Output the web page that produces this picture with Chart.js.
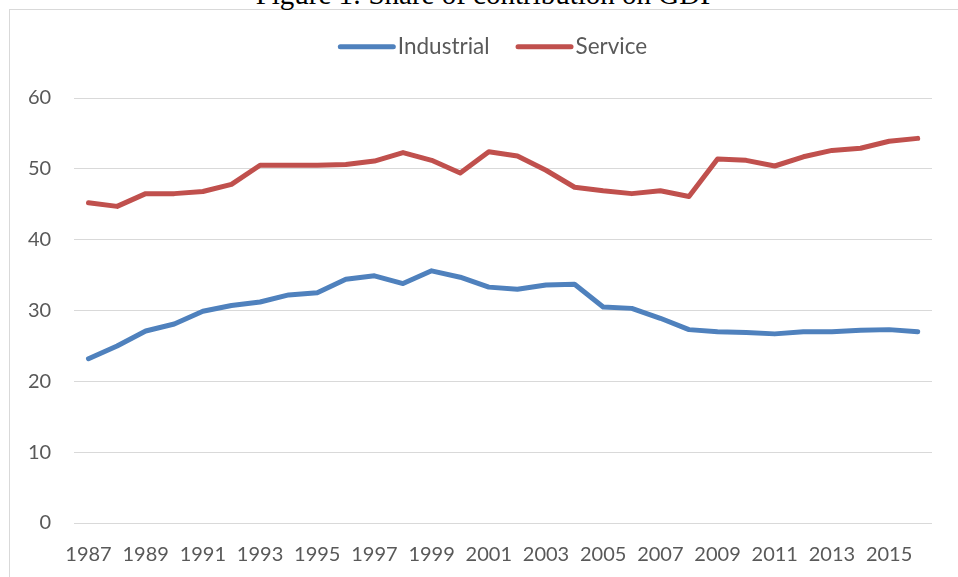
<!DOCTYPE html>
<html>
<head>
<meta charset="utf-8">
<script src="https://cdn.jsdelivr.net/npm/chart.js@4.4.1/dist/chart.umd.min.js"></script>
<style>
  html, body { margin: 0; padding: 0; background: #fff; width: 958px; height: 577px; overflow: hidden; position: relative; }
  #title { position: absolute; left: 0; width: 972px; top: -20px; text-align: center; font-family: "Liberation Serif", "Times New Roman", serif; font-size: 29px; line-height: 29px; color: #000; white-space: nowrap; z-index: 2; }
  #frame { position: absolute; left: 9px; top: 9px; width: 965px; height: 598px; border: 1px solid #d9d9d9; z-index: 1; }
  canvas { display: block; }
</style>
</head>
<body>
<div id="title">Figure 1: Share of contribution on GDP</div>
<div id="frame"><canvas id="c" width="965" height="598"></canvas></div>
<script>
const years = ["1987","1988","1989","1990","1991","1992","1993","1994","1995","1996","1997","1998","1999","2000","2001","2002","2003","2004","2005","2006","2007","2008","2009","2010","2011","2012","2013","2014","2015","2016"];
const industrial = [23.2, 25.0, 27.1, 28.1, 29.9, 30.7, 31.2, 32.2, 32.5, 34.4, 34.9, 33.8, 35.6, 34.7, 33.3, 33.0, 33.6, 33.7, 30.5, 30.3, 28.9, 27.3, 27.0, 26.9, 26.7, 27.0, 27.0, 27.2, 27.3, 27.0];
const service = [45.2, 44.7, 46.5, 46.5, 46.8, 47.8, 50.5, 50.5, 50.5, 50.6, 51.1, 52.3, 51.2, 49.4, 52.4, 51.8, 49.8, 47.4, 46.9, 46.5, 46.9, 46.1, 51.4, 51.2, 50.4, 51.7, 52.6, 52.9, 53.9, 54.3];
const seriesNames = ["Industrial", "Service"];
const yTicks = [0, 10, 20, 30, 40, 50, 60];

// Excel-style legend: line sample directly followed by the label, centred
const excelLegend = {
  id: 'excelLegend',
  afterDraw(chart) {
    const ctx = chart.ctx;
    const font = '22.5px Lato';
    const sampleW = 58, gapText = 2, gapItem = 26, cy = 36.7, cx = 482.5;
    ctx.save();
    ctx.font = font;
    const items = chart.data.datasets.map(ds => ({ label: ds.label, color: ds.borderColor, w: ctx.measureText(ds.label).width }));
    let total = 0;
    items.forEach((it, i) => { total += sampleW + gapText + it.w + (i ? gapItem : 0); });
    let x = cx - total / 2;
    items.forEach((it, i) => {
      if (i) x += gapItem;
      ctx.strokeStyle = it.color;
      ctx.lineWidth = 5;
      ctx.lineCap = 'round';
      ctx.beginPath();
      ctx.moveTo(x + 2.5, cy);
      ctx.lineTo(x + sampleW - 2.5, cy);
      ctx.stroke();
      x += sampleW + gapText;
      ctx.fillStyle = '#595959';
      ctx.textBaseline = 'middle';
      ctx.textAlign = 'left';
      ctx.fillText(it.label, x, cy);
      x += it.w;
    });
    ctx.restore();
  }
};

new Chart(document.getElementById('c'), {
  type: 'line',
  data: {
    labels: years,
    datasets: [
      { label: seriesNames[0], data: industrial, borderColor: '#4f81bd', backgroundColor: '#4f81bd', borderWidth: 5, pointRadius: 0, tension: 0, borderCapStyle: 'round', borderJoinStyle: 'round' },
      { label: seriesNames[1], data: service, borderColor: '#c0504d', backgroundColor: '#c0504d', borderWidth: 5, pointRadius: 0, tension: 0, borderCapStyle: 'round', borderJoinStyle: 'round' }
    ]
  },
  options: {
    responsive: false,
    animation: false,
    layout: { padding: { left: -5, right: 43, top: 88, bottom: 29 } },
    plugins: {
      legend: { display: false },
      tooltip: { enabled: false }
    },
    scales: {
      x: {
        offset: true,
        grid: { display: false },
        border: { display: false },
        ticks: {
          autoSkip: false, maxRotation: 0, padding: 12,
          color: '#595959', font: { family: 'Lato', size: 20 },
          callback(v, i) { return i % 2 === 0 ? years[i] : ''; }
        }
      },
      y: {
        min: 0, max: 60,
        afterBuildTicks(axis) { axis.ticks = yTicks.map(v => ({ value: v })); },
        grid: { color: '#d9d9d9', lineWidth: 1, drawTicks: false },
        border: { display: false },
        ticks: { padding: 23, color: '#595959', font: { family: 'Lato', size: 20 } }
      }
    }
  },
  plugins: [excelLegend]
});
</script>
</body>
</html>
